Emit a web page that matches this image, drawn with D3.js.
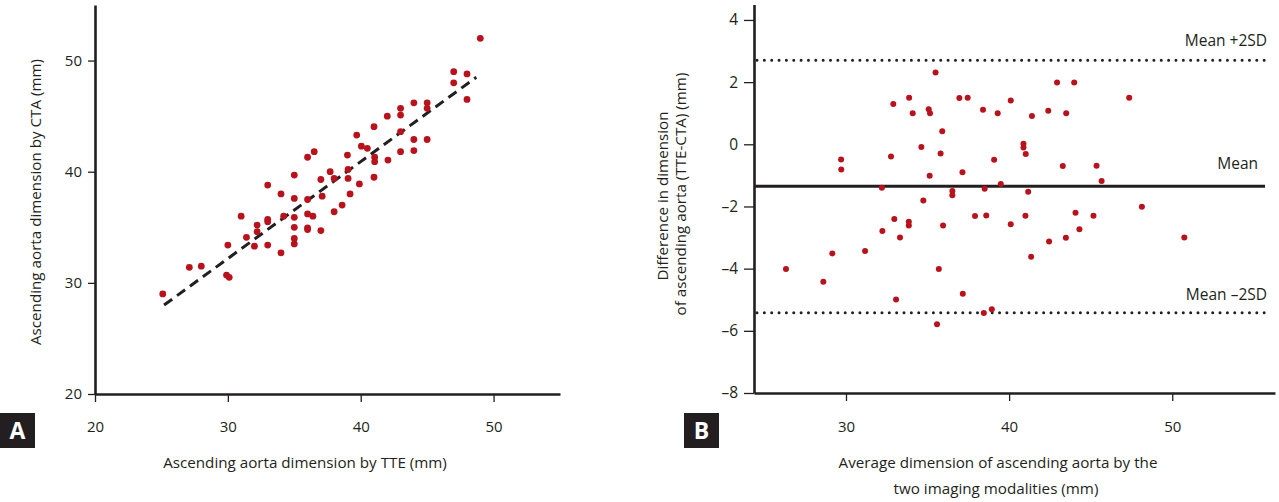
<!DOCTYPE html>
<html>
<head>
<meta charset="utf-8">
<script src="https://cdn.jsdelivr.net/npm/d3@7"></script>
<style>
  html, body { margin: 0; padding: 0; background: #fff; }
  svg { display: block; }
  text { font-family: "Open Sans", "Noto Sans", sans-serif; fill: #231f20; }
</style>
</head>
<body>
<svg id="chart" width="1279" height="502"></svg>
<script>
// ---------- Panel A data: TTE vs CTA (mm) ----------
const aTTE = [25.1, 27.1, 28.0, 29.9, 30.1, 30.0, 31.0, 31.4, 32.0, 32.2, 32.2, 33.0, 33.0, 33.0, 33.0,
  34.0, 34.0, 34.2, 35.0, 35.0, 35.0, 35.0, 35.0, 35.0, 36.0, 36.5, 36.0, 36.0, 36.4, 36.0, 36.0,
  37.0, 37.1, 37.0, 37.7, 38.0, 38.0, 38.6, 39.0, 39.05, 39.05, 39.2, 39.7, 39.9, 40.05, 40.5,
  41.0, 41.05, 41.05, 41.0, 42.0, 42.05, 43.0, 43.0, 43.0, 43.0, 44.0, 44.0, 44.0, 45.0, 45.0, 45.0,
  47.0, 47.0, 48.0, 48.0, 49.0];
const aCTA = [29.0, 31.4, 31.5, 30.7, 30.5, 33.4, 36.0, 34.1, 33.3, 35.2, 34.6, 35.7, 35.5, 33.4, 38.8,
  38.0, 32.7, 36.0, 39.7, 37.6, 35.9, 35.0, 34.0, 33.5, 41.3, 41.8, 37.5, 36.2, 36.0, 34.95, 34.8,
  39.3, 37.8, 34.7, 40.0, 39.4, 36.4, 37.0, 41.5, 40.2, 39.4, 38.0, 43.3, 38.9, 42.3, 42.1,
  44.05, 41.3, 40.9, 39.5, 45.0, 41.05, 45.7, 45.1, 43.6, 41.8, 46.2, 42.9, 41.9, 46.2, 45.7, 42.9,
  49.0, 48.0, 48.8, 46.5, 52.0];
// regression line end points (TTE, CTA)
const regTTE = [25.2, 48.7];
const regCTA = [28.0, 48.5];
const aTicks = [20, 30, 40, 50];

// ---------- Panel B data: Bland-Altman ----------
const bAvg = [35.49, 32.9, 33.87, 34.09, 35.07, 35.15, 36.95, 37.46, 38.4, 35.9, 42.94, 43.99, 40.1, 39.3,
  41.4, 42.4, 43.5, 47.36, 40.88,
  34.62, 32.76, 35.8, 29.7, 29.71, 35.13, 37.14, 32.2, 36.52, 36.52, 38.5, 34.74, 40.88, 41.02, 39.08,
  43.29, 45.36, 45.67, 39.49, 41.17,
  32.96, 33.85, 33.85, 32.23, 33.31, 35.95, 37.91, 38.6, 31.17, 29.16, 26.32, 28.61, 35.69, 33.07,
  37.16, 35.58, 38.45, 38.94, 40.1, 41.0, 44.07, 45.17, 44.31, 43.48, 42.45, 41.35, 48.14, 50.74];
const bDiff = [2.31, 1.30, 1.50, 1.00, 1.13, 1.00, 1.49, 1.50, 1.11, 0.42, 1.99, 1.99, 1.41, 1.00,
  0.91, 1.08, 1.00, 1.50, 0.02,
  -0.09, -0.39, -0.30, -0.49, -0.81, -1.01, -0.90, -1.40, -1.50, -1.64, -1.43, -1.81, -0.10, -0.31, -0.50,
  -0.70, -0.69, -1.18, -1.28, -1.53,
  -2.40, -2.49, -2.61, -2.79, -3.00, -2.61, -2.31, -2.29, -3.43, -3.51, -4.01, -4.42, -4.01, -4.99,
  -4.81, -5.79, -5.43, -5.31, -2.57, -2.30, -2.20, -2.30, -2.73, -3.01, -3.13, -3.62, -2.01, -3.00];
const refNames = ["Mean +2SD", "Mean", "Mean \u20132SD"];
const refValues = [2.70, -1.35, -5.42];
const bxTicks = [30, 40, 50];
const byTicks = [4, 2, 0, -2, -4, -6, -8];

// ---------- drawing ----------
const svg = d3.select("#chart");
const ink = "#231f20";
const red = "#b8131d";
const labelSize = 15.2;

function styleAxis(g, fs) {
  g.select(".domain").attr("stroke", ink).attr("stroke-width", 2.6);
  g.selectAll(".tick line").attr("stroke", ink).attr("stroke-width", 1.3);
  g.selectAll(".tick text").style("font-size", fs + "px").attr("fill", ink);
}

// Panel A
const xA = d3.scaleLinear().domain([20, 55]).range([95, 560]);
const yA = d3.scaleLinear().domain([20, 55]).range([394, 5]);

const gAx = svg.append("g").attr("transform", `translate(0,${yA(20)})`)
  .call(d3.axisBottom(xA).tickValues(aTicks).tickSize(8).tickPadding(19).tickSizeOuter(0));
styleAxis(gAx, 15);
const gAy = svg.append("g").attr("transform", `translate(${xA(20)},0)`)
  .call(d3.axisLeft(yA).tickValues(aTicks).tickSize(7).tickPadding(6).tickSizeOuter(0));
styleAxis(gAy, 15);

svg.append("line")
  .attr("x1", xA(regTTE[0])).attr("y1", yA(regCTA[0]))
  .attr("x2", xA(regTTE[1])).attr("y2", yA(regCTA[1]))
  .attr("stroke", ink).attr("stroke-width", 3).attr("stroke-dasharray", "10,6");

svg.append("g").selectAll("circle").data(aTTE).join("circle")
  .attr("cx", d => xA(d)).attr("cy", (d, i) => yA(aCTA[i])).attr("r", 3.4).attr("fill", red);

svg.append("text").attr("x", 305).attr("y", 468).attr("text-anchor", "middle")
  .style("font-size", labelSize + "px").text("Ascending aorta dimension by TTE (mm)");
svg.append("text").attr("transform", "translate(41,202) rotate(-90)").attr("text-anchor", "middle")
  .style("font-size", labelSize + "px").text("Ascending aorta dimension by CTA (mm)");

// Panel B
const xB = d3.scaleLinear().domain([24.36, 56.3]).range([754, 1275]);
const yB = d3.scaleLinear().domain([-8, 4.5]).range([393, 4.4]);

const gBx = svg.append("g").attr("transform", `translate(0,${yB(-8)})`)
  .call(d3.axisBottom(xB).tickValues(bxTicks).tickSize(8).tickPadding(20).tickSizeOuter(0));
styleAxis(gBx, 15);
const gBy = svg.append("g").attr("transform", `translate(${xB(24.36)},0)`)
  .call(d3.axisLeft(yB).tickValues(byTicks).tickSize(10).tickPadding(6).tickSizeOuter(0)
    .tickFormat(d => d < 0 ? "\u2013" + Math.abs(d) : String(d)));
styleAxis(gBy, 15.5);

refValues.forEach((v, i) => {
  const dotted = i !== 1;
  svg.append("line")
    .attr("x1", dotted ? 757 : xB(24.36)).attr("x2", dotted ? 1270 : 1265)
    .attr("y1", yB(v)).attr("y2", yB(v))
    .attr("stroke", ink).attr("stroke-width", dotted ? 3 : 2.8)
    .attr("stroke-linecap", dotted ? "round" : "butt")
    .attr("stroke-dasharray", dotted ? "0,7.35" : null);
});
const refLabelX = [1267, 1258, 1267];
const refLabelDy = [-14, -17, -13];
refNames.forEach((t, i) => {
  svg.append("text").attr("x", refLabelX[i]).attr("y", yB(refValues[i]) + refLabelDy[i])
    .attr("text-anchor", "end").style("font-size", "15.5px").text(t);
});

svg.append("g").selectAll("circle").data(bAvg).join("circle")
  .attr("cx", d => xB(d)).attr("cy", (d, i) => yB(bDiff[i])).attr("r", 3.0).attr("fill", red);

svg.append("text").attr("x", 998).attr("y", 468).attr("text-anchor", "middle")
  .style("font-size", labelSize + "px").text("Average dimension of ascending aorta by the");
svg.append("text").attr("x", 996).attr("y", 494).attr("text-anchor", "middle")
  .style("font-size", labelSize + "px").text("two imaging modalities (mm)");
svg.append("text").attr("transform", "translate(668,196) rotate(-90)").attr("text-anchor", "middle")
  .style("font-size", labelSize + "px").text("Difference in dimension");
svg.append("text").attr("transform", "translate(686,194) rotate(-90)").attr("text-anchor", "middle")
  .style("font-size", labelSize + "px").text("of ascending aorta (TTE-CTA) (mm)");

// panel letters
[["A", 0], ["B", 684]].forEach(([t, x]) => {
  svg.append("rect").attr("x", x).attr("y", 413).attr("width", 35).attr("height", 35).attr("fill", ink);
  svg.append("text").attr("x", x + 17.5).attr("y", 439).attr("text-anchor", "middle")
    .style("font-size", "23px").style("font-weight", "bold").style("fill", "#fff").text(t);
});
</script>
</body>
</html>
